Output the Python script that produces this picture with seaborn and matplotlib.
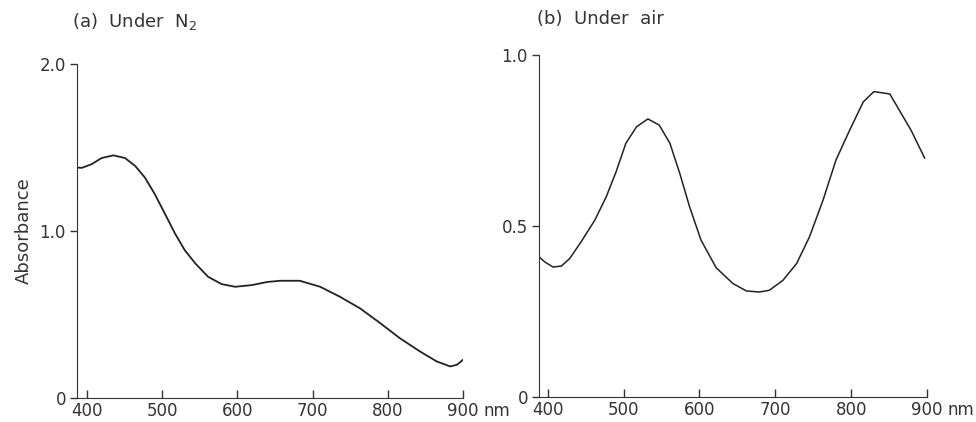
import pandas as pd
import matplotlib
matplotlib.use("Agg")
import matplotlib.pyplot as plt
import seaborn as sns

# Спектр поглощения (a) под N2
wl_n2 = [387, 393, 406, 419.5, 435, 450.5, 464, 477, 490, 504, 517, 530,
         544, 561, 579, 597, 619, 640, 657, 683, 710, 736, 763, 790, 816,
         843, 865, 883, 892, 900]
abs_n2 = [1.38, 1.378, 1.40, 1.437, 1.453, 1.437, 1.39, 1.32, 1.222, 1.10,
          0.985, 0.885, 0.806, 0.726, 0.682, 0.666, 0.676, 0.695, 0.702,
          0.702, 0.666, 0.607, 0.537, 0.448, 0.358, 0.278, 0.219, 0.189,
          0.199, 0.229]

# Спектр поглощения (b) на воздухе
wl_air = [388.5, 396, 407, 418, 429, 444, 462, 477, 490, 503, 517, 532, 547,
          561, 574, 587, 602, 622, 644, 662, 679, 692, 710, 728, 745, 763,
          780, 798, 816, 830, 851, 866, 879, 897]
abs_air = [0.41, 0.395, 0.38, 0.383, 0.405, 0.454, 0.517, 0.585, 0.658,
           0.742, 0.79, 0.813, 0.795, 0.742, 0.654, 0.556, 0.459, 0.378,
           0.332, 0.31, 0.307, 0.312, 0.341, 0.39, 0.468, 0.576, 0.693,
           0.78, 0.863, 0.893, 0.886, 0.829, 0.78, 0.698]

x_ticks = [400, 500, 600, 700, 800, 900]

sns.set_style("ticks")
plt.rcParams['font.family'] = ['DejaVu Sans']

fig = plt.figure(figsize=(9.76, 4.22), dpi=100)
ax1 = fig.add_axes([0.0789, 0.0569, 0.3955, 0.7914])
ax2 = fig.add_axes([0.5523, 0.0592, 0.3975, 0.8105])

df_a = pd.DataFrame({'wl': wl_n2, 'abs': abs_n2})
df_b = pd.DataFrame({'wl': wl_air, 'abs': abs_air})

sns.lineplot(data=df_a, x='wl', y='abs', sort=False, color='#222222',
             linewidth=1.3, ax=ax1)
sns.lineplot(data=df_b, x='wl', y='abs', sort=False, color='#222222',
             linewidth=1.1, ax=ax2)

ax1.set_xlim(386.7, 900)
ax1.set_ylim(0, 2.0)
ax1.set_yticks([0, 1.0, 2.0])
ax1.set_yticklabels(['0', '1.0', '2.0'])

ax2.set_xlim(388.5, 900)
ax2.set_ylim(0, 1.0)
ax2.set_yticks([0, 0.5, 1.0])
ax2.set_yticklabels(['0', '0.5', '1.0'])

for ax in (ax1, ax2):
    ax.set_xticks(x_ticks)
    ax.set_xticklabels([str(t) for t in x_ticks])
    ax.set_xlabel('')
    ax.set_ylabel('')
    sns.despine(ax=ax)
    ax.spines['left'].set_color('#333333')
    ax.spines['bottom'].set_color('#333333')
    ax.tick_params(axis='x', direction='in', length=6, width=1,
                   labelsize=12, pad=3, color='#333333', labelcolor='#333333')
    ax.tick_params(axis='y', direction='out', length=5, width=1,
                   labelsize=12, pad=3, color='#333333', labelcolor='#333333')
    ax.annotate('nm', xy=(1, 0), xycoords='axes fraction',
                xytext=(15, -3), textcoords='offset points',
                ha='left', va='top', fontsize=12, color='#333333')

ax1.set_ylabel('Absorbance', fontsize=13, color='#333333', labelpad=5)
ax1.text(-0.012, 1.095, '(a)  Under  N$_2$', transform=ax1.transAxes,
         fontsize=13, color='#333333', ha='left', va='bottom')
ax2.text(-0.005, 1.08, '(b)  Under  air', transform=ax2.transAxes,
         fontsize=13, color='#333333', ha='left', va='bottom')

fig.savefig('out.png', dpi=100)
